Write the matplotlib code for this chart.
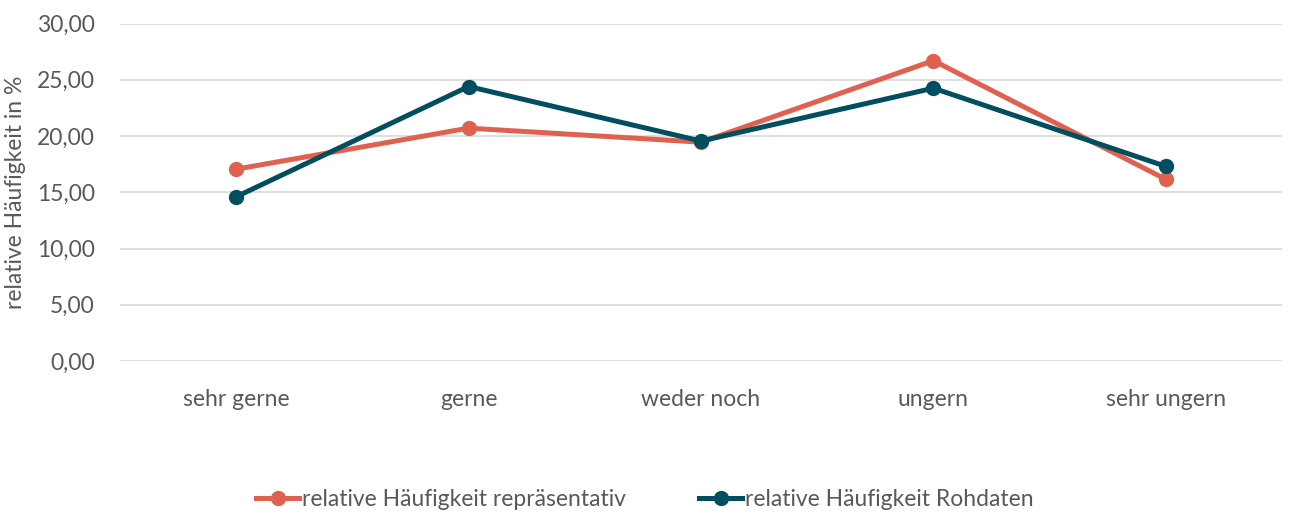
import matplotlib
matplotlib.use('Agg')
import matplotlib.pyplot as plt

plt.rcParams['font.family'] = ['Lato', 'DejaVu Sans']

## data ##
cats = ['sehr gerne', 'gerne', 'weder noch', 'ungern', 'sehr ungern']
rep = [17.05, 20.7, 19.45, 26.7, 16.15]
roh = [14.6, 24.4, 19.55, 24.25, 17.3]
yticks = [0, 5, 10, 15, 20, 25, 30]

c_rep = '#E06150'
c_roh = '#004E5E'
c_txt = '#595959'

fig = plt.figure(figsize=(12.89, 5.13), dpi=100)
ax = fig.add_axes([120/1289, 1-361/513, 1162/1289, 337.5/513])

x = range(len(cats))
ax.plot(x, rep, '-o', color=c_rep, lw=3.6, ms=10, label='relative Häufigkeit repräsentativ', zorder=3)
ax.plot(x, roh, '-o', color=c_roh, lw=3.6, ms=10, label='relative Häufigkeit Rohdaten', zorder=4)

ax.set_xlim(-0.5, 4.5)
ax.set_ylim(0, 30)
ax.set_yticks(yticks)
ax.set_yticklabels([f'{v:.2f}'.replace('.', ',') for v in yticks])
ax.set_xticks(list(x))
ax.set_xticklabels(cats)
ax.tick_params(axis='both', length=0, labelsize=16.5, colors=c_txt)
ax.tick_params(axis='x', pad=20)
ax.tick_params(axis='y', pad=18)
ax.grid(axis='y', color='#D9D9D9', lw=1.2)
ax.set_axisbelow(True)
for s in ax.spines.values():
    s.set_visible(False)
ax.set_ylabel('relative Häufigkeit in %', fontsize=16.5, color=c_txt, labelpad=8)

leg = fig.legend(loc='center', bbox_to_anchor=(0.5, 1-500/513), ncol=2, frameon=False,
                 fontsize=16.5, handlelength=1.9, handletextpad=0.1, columnspacing=3.2)
for t in leg.get_texts():
    t.set_color(c_txt)

fig.savefig('out.png', dpi=100)
